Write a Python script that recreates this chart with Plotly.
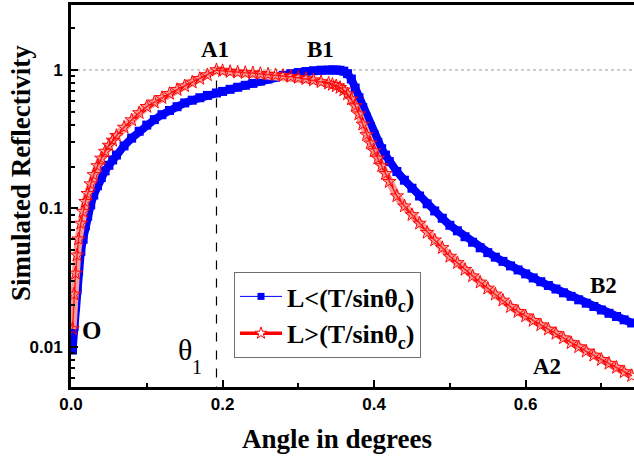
import plotly.graph_objects as go

# ---- data ----
angle = [0.002, 0.004, 0.006, 0.008, 0.010, 0.013, 0.016, 0.019, 0.022, 0.026,
         0.030, 0.035, 0.040, 0.045, 0.050, 0.055, 0.06, 0.07, 0.08, 0.09,
         0.10, 0.11, 0.12, 0.13, 0.14, 0.15, 0.16, 0.17, 0.18, 0.192,
         0.20, 0.21, 0.22, 0.23, 0.24, 0.25, 0.26, 0.27, 0.28, 0.29,
         0.30, 0.31, 0.32, 0.33, 0.34, 0.345, 0.35, 0.355, 0.36, 0.365,
         0.37, 0.375, 0.38, 0.385, 0.39, 0.395, 0.40, 0.405, 0.41, 0.415,
         0.42, 0.43, 0.44, 0.45, 0.46, 0.47, 0.48, 0.49, 0.50, 0.51,
         0.52, 0.53, 0.54, 0.55, 0.56, 0.57, 0.58, 0.59, 0.60, 0.61,
         0.62, 0.63, 0.64, 0.65, 0.66, 0.67, 0.68, 0.69, 0.70, 0.71,
         0.72, 0.73, 0.74]

refl_short = [0.0095, 0.014, 0.0195, 0.026, 0.035, 0.049, 0.060, 0.075, 0.088, 0.106,
              0.125, 0.146, 0.167, 0.187, 0.205, 0.224, 0.243, 0.283, 0.322, 0.361,
              0.400, 0.438, 0.475, 0.510, 0.543, 0.578, 0.605, 0.630, 0.655, 0.682,
              0.70, 0.725, 0.75, 0.775, 0.80, 0.83, 0.86, 0.89, 0.915, 0.94,
              0.958, 0.975, 0.988, 0.997, 1.0, 1.0, 1.0, 0.995, 0.98, 0.94,
              0.86, 0.74, 0.63, 0.535, 0.455, 0.39, 0.34, 0.30, 0.27, 0.243,
              0.218, 0.185, 0.160, 0.140, 0.123, 0.108, 0.096, 0.085, 0.0756, 0.069,
              0.0625, 0.057, 0.052, 0.048, 0.0445, 0.0415, 0.0385, 0.036, 0.0337, 0.0315,
              0.0296, 0.0278, 0.0262, 0.0246, 0.0232, 0.0219, 0.0207, 0.0196, 0.0185, 0.0175,
              0.0166, 0.0157, 0.0149]

refl_long = [0.0135, 0.024, 0.034, 0.046, 0.060, 0.078, 0.095, 0.112, 0.128, 0.150,
             0.175, 0.203, 0.230, 0.258, 0.285, 0.31, 0.335, 0.385, 0.435, 0.49,
             0.543, 0.585, 0.630, 0.675, 0.72, 0.765, 0.815, 0.865, 0.92, 1.0,
             0.985, 0.972, 0.962, 0.955, 0.95, 0.94, 0.93, 0.92, 0.91, 0.895,
             0.88, 0.862, 0.843, 0.82, 0.80, 0.785, 0.765, 0.745, 0.715, 0.67,
             0.615, 0.55, 0.48, 0.405, 0.34, 0.296, 0.26, 0.23, 0.203, 0.178,
             0.156, 0.123, 0.104, 0.090, 0.078, 0.067, 0.059, 0.052, 0.045, 0.0405,
             0.0362, 0.0325, 0.0293, 0.0265, 0.0240, 0.0217, 0.0195, 0.0180, 0.0167, 0.0155,
             0.0144, 0.0134, 0.0125, 0.0116, 0.0107, 0.0100, 0.0093, 0.0087, 0.0081, 0.0076,
             0.0071, 0.0066, 0.0062]

theta1 = 0.192
x_ticks = [0.0, 0.2, 0.4, 0.6]
x_minor = [0.1, 0.3, 0.5, 0.7]
y_ticks = [0.01, 0.1, 1]
y_minor = [0.006, 0.007, 0.008, 0.009,
           0.02, 0.03, 0.04, 0.05, 0.06, 0.07, 0.08, 0.09,
           0.2, 0.3, 0.4, 0.5, 0.6, 0.7, 0.8, 0.9, 2]

W, H = 634, 457
ML, MR, MT, MB = 71, 0, 5, 70
PW, PH = W - ML - MR, H - MT - MB


def px(x):
    return (x - ML) / PW


def py(y):
    return (H - MB - y) / PH


fig = go.Figure()

# reference lines
fig.add_trace(go.Scatter(x=[0, 0.743], y=[1, 1], mode="lines",
                         line=dict(color="#9a9a9a", width=1, dash="dot"),
                         showlegend=False, hoverinfo="skip"))
fig.add_trace(go.Scatter(x=[theta1, theta1], y=[0.001, 1], mode="lines",
                         line=dict(color="black", width=1.2, dash="dash"),
                         showlegend=False, hoverinfo="skip"))

# blue band (dense square markers in the original)
fig.add_trace(go.Scatter(
    x=angle, y=refl_short, mode="lines+markers", showlegend=False,
    line=dict(color="#0000ff", width=8),
    marker=dict(symbol="square", size=9, color="#0000ff", line=dict(width=0))))

# red band (dense open stars in the original)
fig.add_trace(go.Scatter(
    x=angle, y=refl_long, mode="lines", showlegend=False,
    line=dict(color="#f79a9a", width=8)))
fig.add_trace(go.Scatter(
    x=angle, y=refl_long, mode="lines+markers", showlegend=False,
    line=dict(color="#ff2020", width=1.5),
    marker=dict(symbol="star-open", size=10, color="#ff0000",
                line=dict(color="#ff0000", width=1))))

# legend entries
fig.add_trace(go.Scatter(
    x=[None], y=[None], mode="lines+markers",
    name="L&lt;(T/sinθ<sub>c</sub>)",
    line=dict(color="#0000ff", width=1),
    marker=dict(symbol="square", size=7, color="#0000ff", line=dict(width=0))))
fig.add_trace(go.Scatter(
    x=[None], y=[None], mode="lines+markers",
    name="L&gt;(T/sinθ<sub>c</sub>)",
    line=dict(color="#ff0000", width=3.5),
    marker=dict(symbol="star", size=9, color="white",
                line=dict(color="#ff0000", width=1))))

ann = []
for txt, x, y, s in [("A1", 215, 49, 23), ("B1", 320, 49, 23), ("B2", 603, 285, 23),
                     ("A2", 547, 366, 23), ("O", 91, 330, 25)]:
    ann.append(dict(text=txt, x=px(x), y=py(y), xref="paper", yref="paper",
                    showarrow=False, xanchor="center", yanchor="middle",
                    font=dict(family="Liberation Serif", size=s, color="black",
                              weight="bold")))
ann.append(dict(text="θ", x=px(185), y=py(349), xref="paper", yref="paper",
                showarrow=False, xanchor="center", yanchor="middle",
                font=dict(family="Liberation Serif", size=30, color="black")))
ann.append(dict(text="1", x=px(197), y=py(367), xref="paper", yref="paper",
                showarrow=False, xanchor="center", yanchor="middle",
                font=dict(family="Liberation Serif", size=20, color="black")))
ann.append(dict(text="Simulated Reflectivity", x=px(21), y=py(173), xref="paper",
                yref="paper", showarrow=False, textangle=-90,
                xanchor="center", yanchor="middle",
                font=dict(family="Liberation Serif", size=27, color="black", weight="bold")))
ann.append(dict(text="Angle in degrees", x=px(337), y=py(439), xref="paper",
                yref="paper", showarrow=False, xanchor="center", yanchor="middle",
                font=dict(family="Liberation Serif", size=27, color="black", weight="bold")))

tickfont = dict(family="Liberation Sans", size=17, color="black", weight="bold")

fig.update_layout(
    width=W, height=H,
    margin=dict(l=ML, r=MR, t=MT, b=MB, pad=0),
    paper_bgcolor="white", plot_bgcolor="white",
    showlegend=True,
    legend=dict(x=px(234), y=py(272), xanchor="left", yanchor="top",
                bgcolor="white", bordercolor="#707070", borderwidth=1,
                font=dict(family="Liberation Serif", size=26, color="black", weight="bold"),
                itemwidth=42, itemsizing="trace"),
    annotations=ann,
    xaxis=dict(range=[0, 0.743], tickvals=x_ticks, tickformat=".1f",
               ticks="inside", ticklen=7, tickwidth=2, tickcolor="black",
               minor=dict(tickvals=x_minor, ticks="inside", ticklen=4, tickwidth=2,
                          tickcolor="black"),
               showline=True, linecolor="black", linewidth=3, mirror=True,
               showgrid=False, zeroline=False, tickfont=tickfont),
    yaxis=dict(type="log", range=[-2.289, 0.469], tickvals=y_ticks,
               ticktext=["0.01", "0.1", "1"],
               ticks="inside", ticklen=7, tickwidth=2, tickcolor="black",
               minor=dict(tickvals=y_minor, ticks="inside", ticklen=4, tickwidth=2,
                          tickcolor="black"),
               ticklabelstandoff=2,
               showline=True, linecolor="black", linewidth=3, mirror=False,
               showgrid=False, zeroline=False, tickfont=tickfont),
)

fig.write_html("out.html", config={"displayModeBar": False},
               post_script="document.body.style.margin='0px';document.body.style.padding='0px';")
